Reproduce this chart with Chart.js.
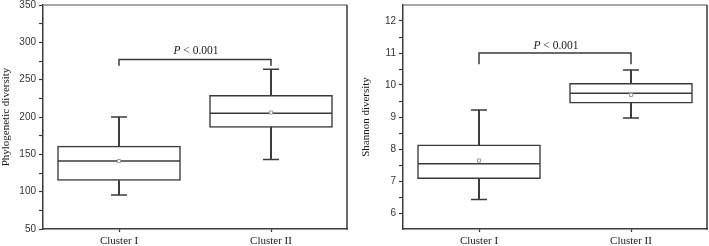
<!DOCTYPE html>
<html>
<head>
<meta charset="utf-8">
<script src="https://cdn.jsdelivr.net/npm/chart.js@4.4.1/dist/chart.umd.min.js"></script>
<style>
  body { margin: 0; background: #fff; overflow: hidden; }
  #wrap { position: relative; width: 709px; height: 246px; }
  .box { position: absolute; top: 0; height: 246px; }
</style>
</head>
<body>
<div id="wrap">
  <div class="box" style="left:0; width:352px"><canvas id="chartPD"></canvas></div>
  <div class="box" style="left:360px; width:349px"><canvas id="chartSH"></canvas></div>
</div>
<script>
// Box plots: phylogenetic and Shannon diversity per cluster
const clusters = ['Cluster I', 'Cluster II'];

// Phylogenetic diversity
const pdLow    = [95.5, 143];
const pdQ1     = [115, 186];
const pdMedian = [141, 205];
const pdQ3     = [161, 229];
const pdHigh   = [200, 264];
const pdMean   = [141, 206];
const pdMajor  = [50, 100, 150, 200, 250, 300, 350];
const pdMinor  = [75, 125, 175, 225, 275, 325];
const pdBracket = [268.5, 277];   // [leg end, bar]

// Shannon diversity
const shLow    = [6.42, 8.97];
const shQ1     = [7.07, 9.43];
const shMedian = [7.54, 9.74];
const shQ3     = [8.13, 10.05];
const shHigh   = [9.22, 10.47];
const shMean   = [7.64, 9.69];
const shMajor  = [6, 7, 8, 9, 10, 11, 12];
const shMinor  = [6.5, 7.5, 8.5, 9.5, 10.5, 11.5];
const shBracket = [10.65, 11.0];

const pText = ['P', ' < 0.001'];

const ink = '#3a3a3a';
const serif = '"Liberation Serif", "Times New Roman", serif';
const sans = '"Liberation Sans", Arial, sans-serif';

function boxChart(id, o) {
    const frame = {
        id: 'frame',
        afterDatasetsDraw(chart) {
            const { ctx, chartArea: a } = chart;
            ctx.save();
            ctx.lineWidth = 1.5;
            ctx.strokeStyle = '#8a8a8a';
            ctx.beginPath(); ctx.moveTo(a.left, a.top); ctx.lineTo(a.right, a.top); ctx.stroke();
            ctx.strokeStyle = ink;
            ctx.beginPath(); ctx.moveTo(a.right, a.top); ctx.lineTo(a.right, a.bottom + 0.75); ctx.stroke();
            ctx.restore();
        }
    };
    const pLabel = {
        id: 'pLabel',
        afterDatasetsDraw(chart) {
            const { ctx, scales: { x, y } } = chart;
            const cx = (x.getPixelForValue(0) + x.getPixelForValue(1)) / 2 + 1;
            const by = y.getPixelForValue(o.bracket[1]) - o.textGap;
            ctx.save();
            ctx.fillStyle = '#1a1a1a';
            ctx.textBaseline = 'alphabetic';
            const fi = 'italic 11.5px ' + serif, fn = '11.5px ' + serif;
            ctx.font = fi; const w1 = ctx.measureText(pText[0]).width;
            ctx.font = fn; const w2 = ctx.measureText(pText[1]).width;
            const x0 = cx - (w1 + w2) / 2;
            ctx.font = fi; ctx.fillText(pText[0], x0, by);
            ctx.font = fn; ctx.fillText(pText[1], x0 + w1, by);
            ctx.restore();
        }
    };
    const pts = { type: 'line', showLine: false, pointBorderColor: ink, pointBorderWidth: 1.5, pointHoverRadius: 0 };
    return new Chart(document.getElementById(id), {
        type: 'bar',
        data: {
            labels: clusters,
            datasets: [
                { type: 'bar', data: o.low.map((v, i) => [v, o.q1[i]]), backgroundColor: ink, borderWidth: 0, barThickness: 1.3, grouped: false, order: 5 },
                { type: 'bar', data: o.q3.map((v, i) => [v, o.high[i]]), backgroundColor: ink, borderWidth: 0, barThickness: 1.3, grouped: false, order: 5 },
                { type: 'bar', data: o.q1.map((v, i) => [v, o.q3[i]]), backgroundColor: '#fff', borderColor: ink, borderWidth: 1.5, borderSkipped: false, barThickness: 123, grouped: false, order: 4 },
                { ...pts, data: o.high, pointStyle: 'line', pointRadius: 8, order: 2 },
                { ...pts, data: o.low, pointStyle: 'line', pointRadius: 8, order: 2 },
                { ...pts, data: o.median, pointStyle: 'line', pointRadius: 61, order: 1 },
                { ...pts, data: o.mean, pointStyle: 'rect', pointRadius: 2.2, pointBorderWidth: 1, pointBorderColor: '#9a9a9a', pointBackgroundColor: '#fff', order: 0 },
                { type: 'line', data: [
                        { x: clusters[0], y: o.bracket[0] }, { x: clusters[0], y: o.bracket[1] },
                        { x: clusters[1], y: o.bracket[1] }, { x: clusters[1], y: o.bracket[0] }
                    ], borderColor: ink, borderWidth: 1.5, pointRadius: 0, tension: 0, fill: false, order: 3 }
            ]
        },
        options: {
            responsive: true,
            maintainAspectRatio: false,
            animation: false,
            layout: { autoPadding: false, padding: { top: 0, left: 0, bottom: 0, right: o.padRight } },
            plugins: { legend: { display: false }, tooltip: { enabled: false } },
            scales: {
                x: {
                    offset: true,
                    grid: { offset: false, drawOnChartArea: false, tickLength: 3, tickColor: ink, tickWidth: 1.3 },
                    border: { color: ink, width: 1.5 },
                    ticks: { font: { family: serif, size: 11 }, color: '#1a1a1a', padding: 3 },
                    afterFit: s => { s.height = 17; s.paddingLeft = 0; s.paddingRight = 0; }
                },
                y: {
                    min: o.min, max: o.max,
                    afterBuildTicks: s => { s.ticks = o.major.concat(o.minor).sort((a, b) => a - b).map(v => ({ value: v })); },
                    ticks: { autoSkip: false, callback: v => o.major.includes(v) ? String(v) : '', font: { family: sans, size: 10, lineHeight: 1 }, color: '#333', padding: 3 },
                    grid: { drawOnChartArea: false, tickLength: 4, tickColor: ink, tickWidth: 1.2 },
                    border: { color: ink, width: 1.5 },
                    title: { display: true, text: o.title, font: { family: serif, size: 11 }, color: '#1a1a1a', padding: 0 },
                    afterFit: s => { s.width = 43; s.paddingTop = 5; s.paddingBottom = 0; }
                }
            }
        },
        plugins: [frame, pLabel]
    });
}

boxChart('chartPD', {
    low: pdLow, q1: pdQ1, median: pdMedian, q3: pdQ3, high: pdHigh, mean: pdMean,
    major: pdMajor, minor: pdMinor, min: 50, max: 350, bracket: pdBracket,
    title: 'Phylogenetic diversity', textGap: 6, padRight: 5
});
boxChart('chartSH', {
    low: shLow, q1: shQ1, median: shMedian, q3: shQ3, high: shHigh, mean: shMean,
    major: shMajor, minor: shMinor, min: 5.5, max: 12.5, bracket: shBracket,
    title: 'Shannon diversity', textGap: 4, padRight: 2
});
</script>
</body>
</html>
